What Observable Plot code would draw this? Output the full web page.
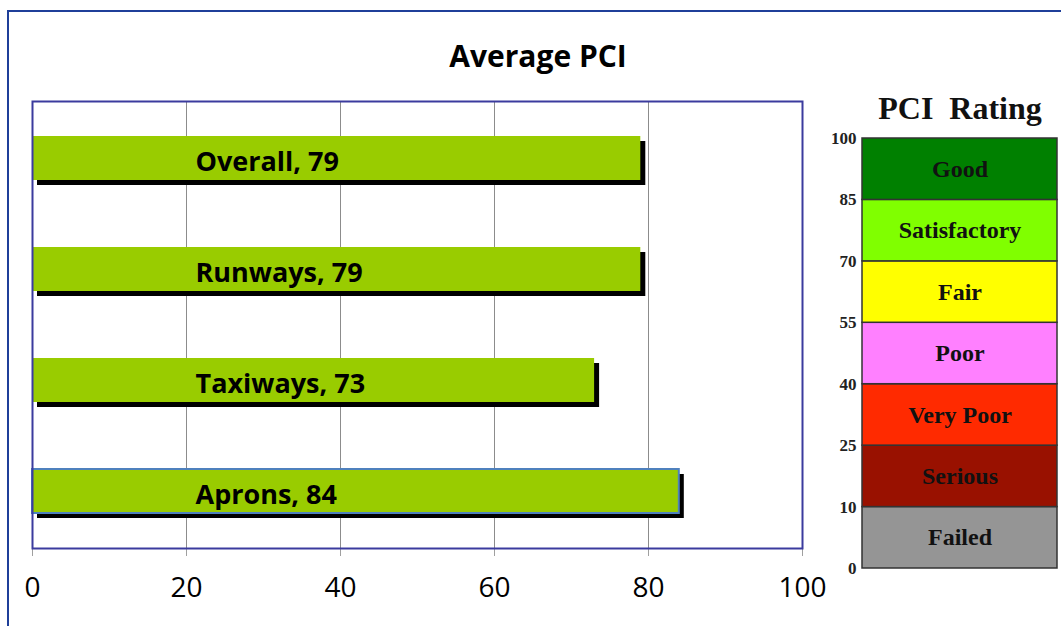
<!DOCTYPE html>
<html>
<head>
<meta charset="utf-8">
<script src="https://cdn.jsdelivr.net/npm/d3@7"></script>
<script src="https://cdn.jsdelivr.net/npm/@observablehq/plot@0.6"></script>
<style>
  html, body { margin: 0; padding: 0; background: white; }
  #wrap { position: relative; width: 1061px; height: 626px; overflow: hidden; background: white; }
  #outer { position: absolute; left: 7px; top: 10px; width: 1200px; height: 800px; border: 2px solid #1f3f99; box-sizing: border-box; }
  #title { position: absolute; left: 0; width: 1076px; top: 36px; text-align: center; font: bold 30px "Open Sans", sans-serif; line-height: 40px; color: #000; }
  #rtitle { position: absolute; left: 860px; width: 200px; top: 88px; text-align: center; font: bold 32px "Liberation Serif", serif; line-height: 40px; color: #111; white-space: pre; }
  #main { position: absolute; left: 0; top: 0; }
  #rating { position: absolute; left: 800px; top: 80px; }
</style>
</head>
<body>
<div id="wrap">
  <div id="outer"></div>
  <div id="title">Average PCI</div>
  <div id="main"></div>
  <div id="rating"></div>
  <div id="rtitle">PCI  Rating</div>
</div>
<script>
// Bar chart data
const categories = ["Overall", "Runways", "Taxiways", "Aprons"];
const values = [79, 79, 73, 84];
const xTicks = [0, 20, 40, 60, 80, 100];

// PCI rating scale (bottom to top)
const ratingNames = ["Failed", "Serious", "Very Poor", "Poor", "Fair", "Satisfactory", "Good"];
const ratingColors = ["#959595", "#991100", "#ff2a00", "#ff80ff", "#ffff00", "#80ff00", "#008000"];
const ratingBounds = [0, 10, 25, 40, 55, 70, 85, 100];

const bars = categories.map((name, i) => ({name, value: values[i]}));
const ratings = ratingNames.map((name, i) => ({name, color: ratingColors[i], lo: i, hi: i + 1}));

const main = Plot.plot({
  width: 840,
  height: 626,
  marginLeft: 32,
  marginRight: 38,
  marginTop: 101,
  marginBottom: 78,
  style: {background: "transparent", fontFamily: "'Open Sans', sans-serif", color: "#000", fontSize: "28px"},
  x: {domain: [0, 100]},
  y: {domain: categories, paddingInner: 0.6, paddingOuter: 0.3, axis: null},
  marks: [
    Plot.gridX([20, 40, 60, 80], {stroke: "#8c8c8c", strokeOpacity: 1, strokeWidth: 1}),
    Plot.axisX(xTicks, {tickSize: 8, tickPadding: 21, stroke: "#a0a0a0", fill: "#000", fontSize: 28, label: null}),
    Plot.barX(bars, {x: "value", y: "name", fill: "#000", dx: 5, dy: 5}),
    Plot.barX(bars, {x: "value", y: "name", fill: "#99cc00"}),
    Plot.barX(bars.filter(d => d.name === "Aprons"), {x: "value", y: "name", fill: "none", stroke: "#4f81bd", strokeWidth: 2}),
    Plot.text(bars, {y: "name", text: d => `${d.name}, ${d.value}`, frameAnchor: "left", dx: 163, dy: 4, textAnchor: "start", fontWeight: "bold", fontSize: 27, fill: "#000"}),
    Plot.frame({stroke: "#3b3b9e", strokeWidth: 2})
  ]
});
document.getElementById("main").appendChild(main);

const rating = Plot.plot({
  width: 261,
  height: 520,
  marginLeft: 62,
  marginRight: 4,
  marginTop: 58,
  marginBottom: 32,
  style: {background: "transparent", fontFamily: "'Liberation Serif', serif", color: "#111", fontSize: "17px", fontWeight: "bold"},
  x: {domain: [0, 1], axis: null},
  y: {domain: [0, 7], axis: null},
  marks: [
    Plot.rect(ratings, {x1: () => 0, x2: () => 1, y1: "lo", y2: "hi", fill: "color", stroke: "#333", strokeWidth: 1.5}),
    Plot.text(ratings, {y: d => (d.lo + d.hi) / 2, text: "name", fontSize: 24, fontWeight: "bold", fill: "#111"}),
    Plot.axisY(d3.range(ratingBounds.length), {tickSize: 0, tickPadding: 6, tickFormat: i => ratingBounds[i], fontSize: 17, fontWeight: "bold", fill: "#222", label: null})
  ]
});
document.getElementById("rating").appendChild(rating);
</script>
</body>
</html>
